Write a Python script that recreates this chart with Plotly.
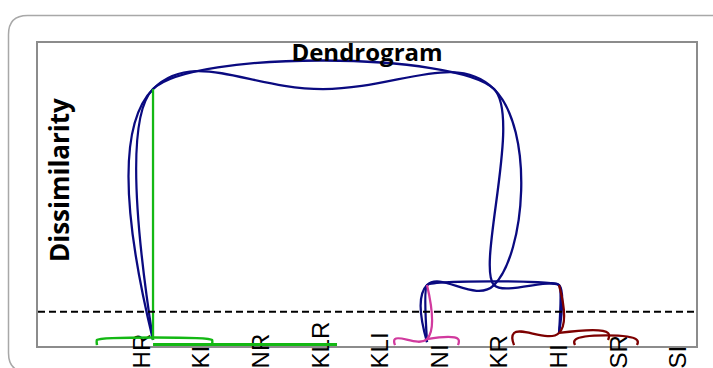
import plotly.graph_objects as go

# ---- data (x in leaf-position units, y = dissimilarity) ----
leaf_labels = ["HR", "KI", "NR", "KLR", "KLI", "NI", "KR", "HI", "SR", "SI"]
leaf_pos = list(range(len(leaf_labels)))

# top link (root), drawn corner to corner, continuing into the lower right link
root_x = [0.185, 0.185, 5.906, 5.906, 6.997, 6.997]
root_y = [2.0, 84.8, 84.8, 20.1, 20.1, 4.3]
# root link drawn through its centre, continuing into the lower left link
root_mid_x = [0.185, 0.185, 3.037, 5.906, 5.906, 4.782, 4.782]
root_mid_y = [2.0, 84.8, 84.8, 84.8, 20.1, 20.1, 1.3]
# lower link (pink + dark red clusters), corner to corner
low_x = [4.782, 4.782, 6.997, 6.997]
low_y = [1.3, 20.1, 20.1, 4.3]

# green cluster
green_up_x = [0.185, 0.185]
green_up_y = [84.8, 2.0]
green_u_x = [-0.755, -0.755, 1.174, 1.174]
green_u_y = [0.3, 2.0, 2.0, 0.3]
green_low_x = [0.185, 3.272]
green_low_y = [0.5, 0.5]

# pink cluster
pink_a_x = [4.782, 4.782, 4.245, 4.245]
pink_a_y = [20.1, 2.3, 2.3, 0.3]
pink_b_x = [4.782, 5.302, 5.302]
pink_b_y = [2.3, 2.3, 0.3]

# dark red cluster
red_a_x = [6.997, 6.997, 6.242, 6.242]
red_a_y = [20.1, 4.3, 4.3, 0.3]
red_b_x = [6.997, 7.819, 7.819]
red_b_y = [4.3, 4.3, 2.0]
red_c_x = [7.265, 7.265, 8.305, 8.305]
red_c_y = [0.3, 2.0, 2.0, 0.3]

cut_level = 11.3

NAVY = "#0a0a80"
GREEN = "#14b814"
PINK = "#d13a9e"
DRED = "#7d0000"

fig = go.Figure()

def add(x, y, color, smooth=1.0, width=2.3):
    fig.add_trace(go.Scatter(
        x=x, y=y, mode="lines",
        line=dict(color=color, width=width, shape="spline", smoothing=smooth),
        showlegend=False, hoverinfo="skip"))

add(root_x, root_y, NAVY, 0.75)
add(root_mid_x, root_mid_y, NAVY, 1.3)
add(low_x, low_y, NAVY, 0.3)
add(green_up_x, green_up_y, GREEN, 1.0)
add(green_u_x, green_u_y, GREEN, 0.5, 2.5)
add(green_low_x, green_low_y, GREEN, 1.0, 3)
add(pink_a_x, pink_a_y, PINK, 1.3)
add(pink_b_x, pink_b_y, PINK, 1.3)
add(red_a_x, red_a_y, DRED, 1.3)
add(red_b_x, red_b_y, DRED, 1.3)
add(red_c_x, red_c_y, DRED, 1.3)

# ---- layout geometry ----
W, H = 713, 368
L, R, T, B = 38, 17, 43, 22
pw, ph = W - L - R, H - T - B

def fx(px):
    return (px - L) / pw

def fy(py):
    return (H - B - py) / ph

# dashed cut line
fig.add_shape(type="line", xref="paper", x0=0, x1=1, yref="y", y0=cut_level, y1=cut_level,
              line=dict(color="black", width=2, dash="7px,4px"))

# rounded outer chart border
lx, ty, rx, by, rad = 8.5, 15.5, 760, 372, 19
path = (f"M {fx(lx)},{fy(ty + rad)} Q {fx(lx)},{fy(ty)} {fx(lx + rad)},{fy(ty)} "
        f"L {fx(rx)},{fy(ty)} L {fx(rx)},{fy(by)} L {fx(lx + rad)},{fy(by)} "
        f"Q {fx(lx)},{fy(by)} {fx(lx)},{fy(by - rad)} Z")
fig.add_shape(type="path", path=path, xref="paper", yref="paper",
              line=dict(color="#a8a8a8", width=1.5), layer="below")

fig.add_annotation(text="<b>Dissimilarity</b>", textangle=-90, showarrow=False,
                   xref="paper", yref="paper", x=fx(59), y=fy(180),
                   xanchor="center", yanchor="middle",
                   font=dict(family="Open Sans", size=26, color="black"))

fig.update_layout(
    width=W, height=H, autosize=False,
    margin=dict(l=L, r=R, t=T, b=B, pad=0),
    paper_bgcolor="white", plot_bgcolor="white",
    title=dict(text="<b>Dendrogram</b>", x=fx(367), xref="paper", xanchor="center",
               y=1 - 52.6 / H, yref="container", yanchor="middle",
               font=dict(family="Open Sans", size=24, color="black")),
    xaxis=dict(range=[-1.745, 9.295], tickmode="array", tickvals=leaf_pos, ticktext=leaf_labels,
               tickangle=-90, ticks="", showgrid=False, zeroline=False,
               showline=True, mirror=True, linecolor="#8c8c8c", linewidth=2,
               ticklabelposition="inside", ticklabelstandoff=-29, automargin=False,
               tickfont=dict(family="Liberation Sans", size=24, color="black"),
               layer="below traces"),
    yaxis=dict(range=[0, 100], showticklabels=False, ticks="", showgrid=False, zeroline=False,
               showline=True, mirror=True, linecolor="#8c8c8c", linewidth=2,
               automargin=False, layer="below traces"),
)

fig.write_html("out.html")
